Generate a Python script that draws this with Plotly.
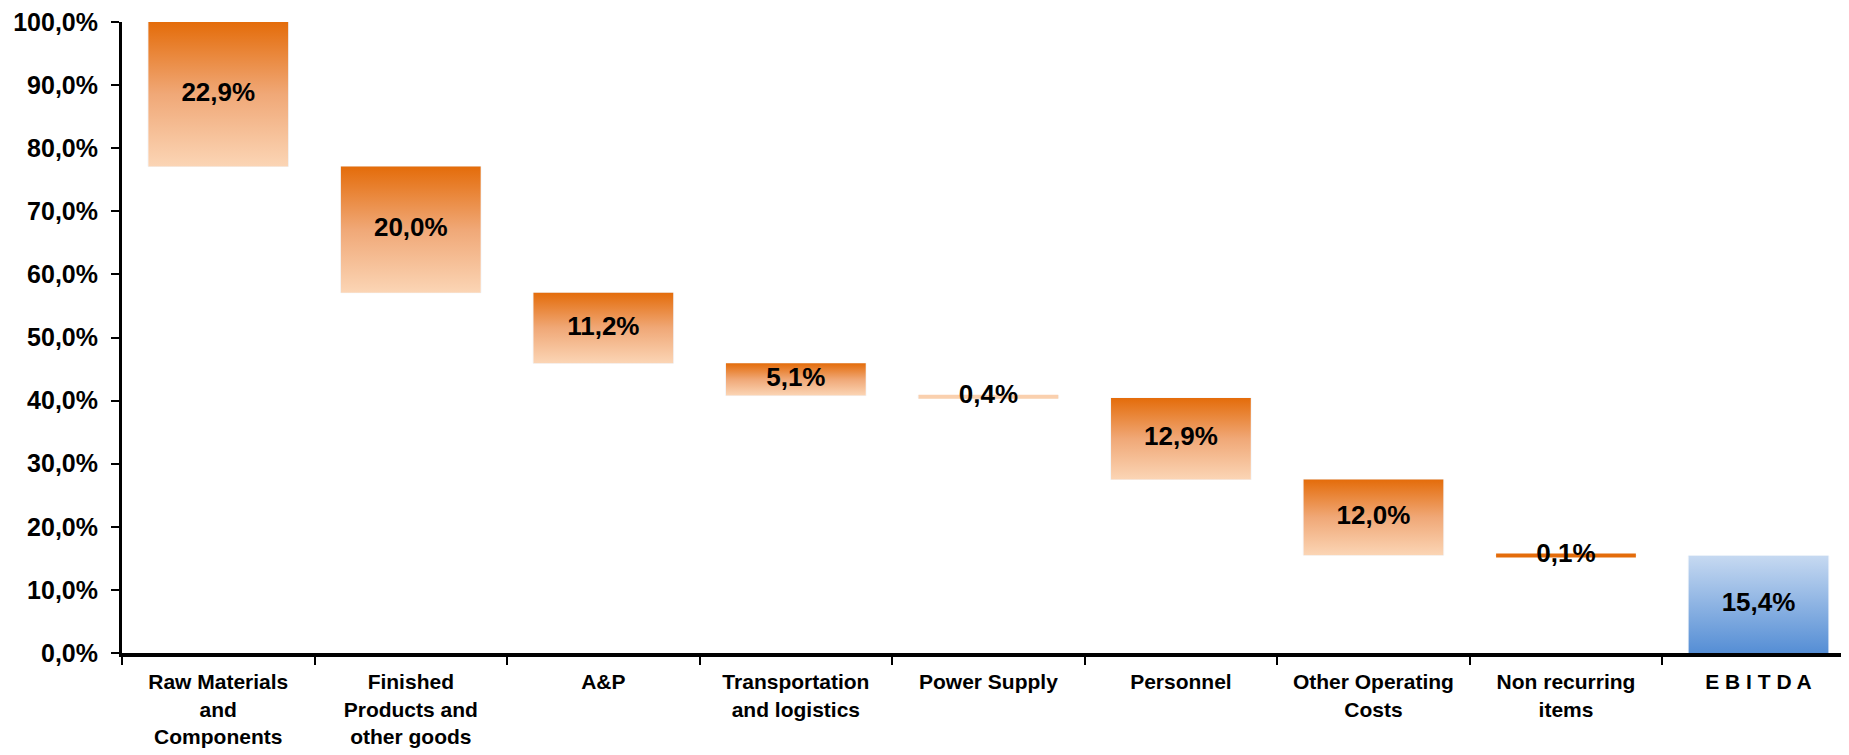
import plotly.graph_objects as go

categories = ["Raw Materials<br>and<br>Components", "Finished<br>Products and<br>other goods", "A&P",
              "Transportation<br>and logistics", "Power Supply", "Personnel",
              "Other Operating<br>Costs", "Non recurring<br>items", "E B I T D A"]
changes = [22.9, 20.0, 11.2, 5.1, 0.4, 12.9, 12.0, 0.1]
ebitda = 15.4
start_total = 100.0
value_labels = ["22,9%", "20,0%", "11,2%", "5,1%", "0,4%", "12,9%", "12,0%", "0,1%", "15,4%"]
y_tickvals = [0, 10, 20, 30, 40, 50, 60, 70, 80, 90, 100]
y_ticktext = ["0,0%", "10,0%", "20,0%", "30,0%", "40,0%", "50,0%", "60,0%", "70,0%", "80,0%", "90,0%", "100,0%"]

ORANGE_SCALE = [[0, "#FBD5B5"], [0.5, "#F0A877"], [1, "#E46C0A"]]
BLUE_SCALE = [[0, "#558ED5"], [1, "#C6D9F1"]]
THIN_COLORS = {4: "#FAD0AE", 7: "#E46C0A"}
FONT = "Liberation Sans, Arial, sans-serif"
HALF = 0.363

# compute floating bars
bases, tops = [], []
level = start_total
for c in changes:
    tops.append(level)
    level -= c
    bases.append(level)
bases.append(0.0)
tops.append(ebitda)

fig = go.Figure()
# category carrier (invisible bars)
fig.add_trace(go.Bar(x=categories, y=[t - b for t, b in zip(tops, bases)], base=bases,
                     marker_color="rgba(0,0,0,0)", hoverinfo="skip", showlegend=False,
                     xaxis="x", yaxis="y"))

for i, (b, t) in enumerate(zip(bases, tops)):
    xs = [i - HALF, i + HALF, i + HALF, i - HALF, i - HALF]
    if i in THIN_COLORS:
        mid = (b + t) / 2
        fig.add_trace(go.Scatter(x=[i - HALF, i + HALF], y=[mid, mid], mode="lines",
                                 line=dict(color=THIN_COLORS[i], width=4),
                                 hoverinfo="skip", showlegend=False, xaxis="x2", yaxis="y"))
        continue
    ys = [b, b, t, t, b]
    scale = BLUE_SCALE if i == len(categories) - 1 else ORANGE_SCALE
    fig.add_trace(go.Scatter(x=xs, y=ys, mode="lines", fill="toself", line=dict(width=0),
                             fillgradient=dict(type="vertical", colorscale=scale),
                             hoverinfo="skip", showlegend=False, xaxis="x2", yaxis="y"))

fig.add_trace(go.Scatter(x=list(range(len(categories))), y=[(b + t) / 2 for b, t in zip(bases, tops)],
                         mode="text", text=value_labels,
                         textfont=dict(family=FONT, size=26, color="black", weight="bold"),
                         hoverinfo="skip", showlegend=False, xaxis="x2", yaxis="y"))

xr = [-0.5, 8.47]
fig.update_layout(
    width=1841, height=747,
    margin=dict(l=114, r=0, t=14, b=102),
    plot_bgcolor="white", paper_bgcolor="white",
    bargap=0.27,
    xaxis=dict(type="category", range=xr, tickson="boundaries", ticks="outside", ticklen=8,
               tickwidth=2, tickcolor="black", showline=True, linecolor="black", linewidth=4,
               showgrid=False, zeroline=False, ticklabelstandoff=7, automargin=False,
               tickfont=dict(family=FONT, size=21, color="black", weight="bold")),
    xaxis2=dict(overlaying="x", range=xr, visible=False, showgrid=False, zeroline=False),
    yaxis=dict(range=[0, 100], tickvals=y_tickvals, ticktext=y_ticktext, ticks="outside",
               ticklen=8, tickwidth=2, tickcolor="black", showline=True, linecolor="black",
               linewidth=3, showgrid=False, zeroline=False, ticklabelstandoff=8,
               ticklabeloverflow="allow", automargin=False,
               tickfont=dict(family=FONT, size=25, color="black", weight="bold")),
)
fig.write_html("out.html")
